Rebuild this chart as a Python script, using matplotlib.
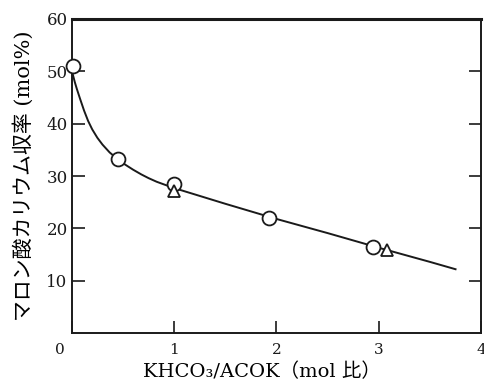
import matplotlib
matplotlib.use("Agg")
import matplotlib.pyplot as plt
from matplotlib.transforms import ScaledTranslation

plt.rcParams['font.family'] = ['DejaVu Serif', 'Noto Sans CJK JP']

# 実測点（○と△）
circle_x = [0.01, 0.45, 1.0, 1.93, 2.94]
circle_y = [51.0, 33.2, 28.4, 21.9, 16.4]
tri_x = [1.0, 3.08]
tri_y = [27.2, 15.9]

# 曲線
curve_x = [0.0, 0.01, 0.03, 0.05, 0.08, 0.12, 0.16, 0.2, 0.25, 0.3, 0.37, 0.45, 0.52, 0.6, 0.68,
           0.75, 0.83, 0.9, 1.0, 1.2, 1.5, 2.0, 2.5, 3.0, 3.5, 3.75]
curve_y = [50.6, 49.4, 47.9, 46.6, 44.8, 42.5, 40.5, 38.9, 37.3, 36.0, 34.5, 33.2, 32.2, 31.2, 30.3,
           29.6, 28.9, 28.4, 27.7, 26.5, 24.7, 21.8, 19.1, 16.3, 13.6, 12.2]

xticks = [0, 1, 2, 3, 4]
yticks = [10, 20, 30, 40, 50, 60]

fig = plt.figure(figsize=(4.85, 3.86), dpi=100)
ax = fig.add_axes([0.148, 0.137, 0.844, 0.814])

ax.plot(curve_x, curve_y, color='#1a1a1a', lw=1.4, zorder=2, solid_joinstyle='round')
ax.plot(circle_x, circle_y, 'o', ms=10, mfc='white', mec='#1a1a1a', mew=1.3, zorder=3, clip_on=False)
ax.plot(tri_x, tri_y, '^', ms=8, mfc='white', mec='#1a1a1a', mew=1.3, zorder=3)

ax.set_xlim(0, 4)
ax.set_ylim(0, 60)
ax.set_xticks(xticks)
ax.set_yticks(yticks)

ax.tick_params(axis='both', direction='in', length=9, width=1.2, colors='#1a1a1a',
               labelsize=12, right=True, top=False)
ax.tick_params(axis='x', pad=7, labelsize=11)
ax.tick_params(axis='y', pad=3)

# x軸の「0」は原点の左下に置く
lbl0 = ax.get_xticklabels()[0]
lbl0.set_transform(lbl0.get_transform() + ScaledTranslation(-0.12, 0, fig.dpi_scale_trans))

for s in ax.spines.values():
    s.set_linewidth(1.4)
    s.set_color('#1a1a1a')
ax.spines['top'].set_linewidth(2.2)

ax.set_xlabel('KHCO\u2083/ACOK（mol 比）', fontsize=14)
ax.xaxis.set_label_coords(0.465, -0.093)
ax.set_ylabel('マロン酸カリウム収率 (mol%)', fontsize=15, labelpad=9)

fig.savefig('out.png', dpi=100)
